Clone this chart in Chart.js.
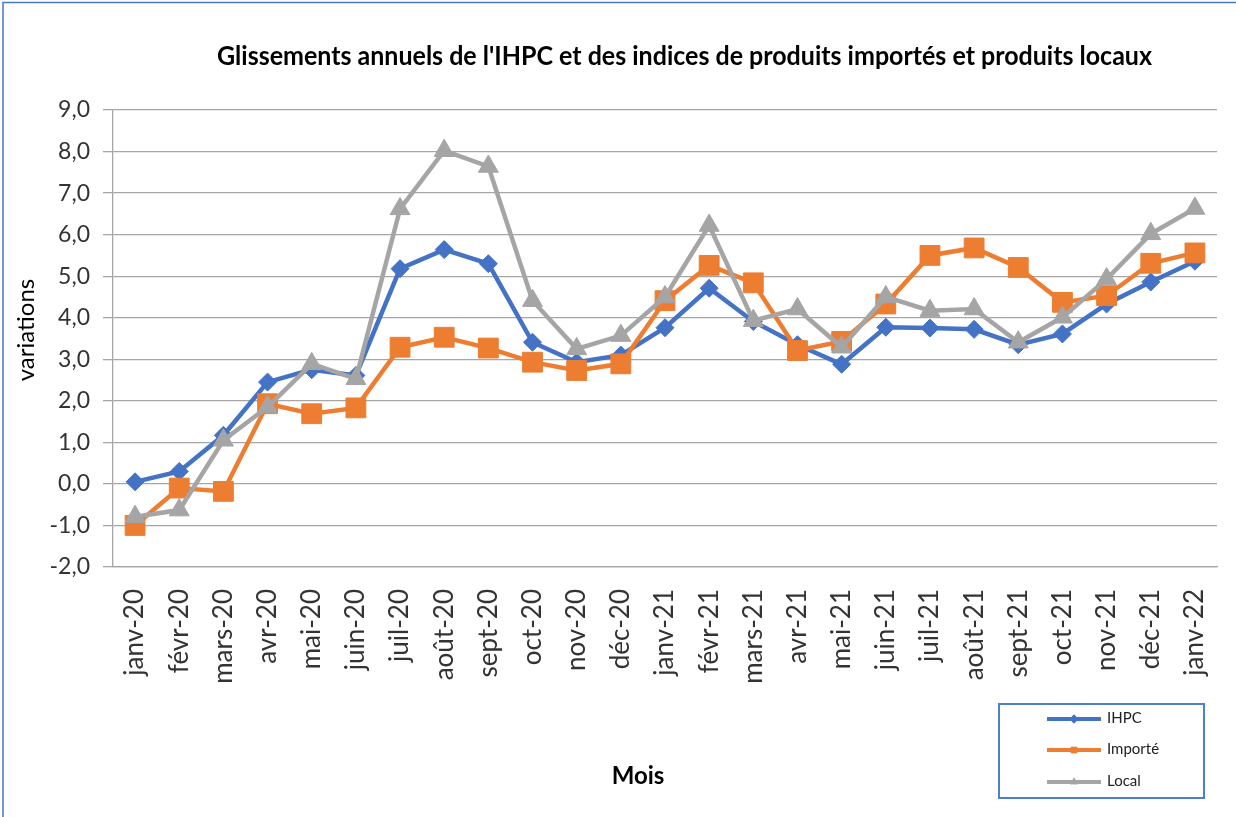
<!DOCTYPE html>
<html><head><meta charset="utf-8">
<script src="https://cdn.jsdelivr.net/npm/chart.js@4"></script>
<style>html,body{margin:0;padding:0;background:#fff}#wrap{width:1236px;height:817px;position:relative}canvas{display:block}</style>
</head><body><div id="wrap"><canvas id="c" width="1236" height="817"></canvas></div>
<script>
const categories = ["janv-20","févr-20","mars-20","avr-20","mai-20","juin-20","juil-20","août-20","sept-20","oct-20","nov-20","déc-20","janv-21","févr-21","mars-21","avr-21","mai-21","juin-21","juil-21","août-21","sept-21","oct-21","nov-21","déc-21","janv-22"];
const ihpc    = [0.05, 0.30, 1.17, 2.45, 2.75, 2.61, 5.18, 5.64, 5.30, 3.41, 2.93, 3.10, 3.76, 4.71, 3.91, 3.35, 2.88, 3.77, 3.75, 3.72, 3.35, 3.61, 4.33, 4.86, 5.36];
const importe = [-1.00, -0.10, -0.18, 1.93, 1.69, 1.83, 3.29, 3.53, 3.27, 2.93, 2.73, 2.89, 4.41, 5.26, 4.84, 3.21, 3.43, 4.33, 5.50, 5.68, 5.21, 4.37, 4.53, 5.31, 5.56];
const local   = [-0.79, -0.63, 1.05, 1.85, 2.89, 2.53, 6.62, 8.02, 7.64, 4.41, 3.25, 3.57, 4.50, 6.22, 3.93, 4.21, 3.29, 4.50, 4.17, 4.21, 3.41, 4.01, 4.93, 6.02, 6.63];
const seriesNames = ["IHPC", "Importé", "Local"];
const yMin = -2, yMax = 9, yStep = 1;
const titleText = "Glissements annuels de l'IHPC et des indices de produits importés et produits locaux";
const yTitle = "variations";
const xTitle = "Mois";

const FONT = "Lato, 'Open Sans', sans-serif";
const colors = ["#4472C4", "#ED7D31", "#A5A5A5"];
const styles = ["rectRot", "rect", "triangle"];

const decor = {
  id: 'decor',
  beforeDraw(chart) {
    const ctx = chart.ctx;
    ctx.save(); ctx.fillStyle = '#fff'; ctx.fillRect(0, 0, chart.width, chart.height); ctx.restore();
  },
  afterDraw(chart) {
    const ctx = chart.ctx;
    ctx.save();
    ctx.strokeStyle = '#4a78c8'; ctx.lineWidth = 1.5;
    ctx.beginPath(); ctx.moveTo(3, 817); ctx.lineTo(3, 2.5); ctx.lineTo(1236, 2.5); ctx.stroke();
    ctx.fillStyle = '#000';
    ctx.font = "bold 26px " + FONT;
    ctx.textBaseline = 'alphabetic'; ctx.textAlign = 'center';
    const w = ctx.measureText(titleText).width;
    const sx = 935 / w;
    ctx.save(); ctx.translate(684.5, 65); ctx.scale(sx, 1); ctx.fillText(titleText, 0, 0); ctx.restore();
    ctx.font = "bold 24px " + FONT;
    ctx.fillText(xTitle, 638, 784);
    ctx.save();
    ctx.font = "24px " + FONT; ctx.textBaseline = 'middle';
    ctx.translate(26, 330); ctx.rotate(-Math.PI / 2); ctx.fillText(yTitle, 0, 0);
    ctx.restore();
    ctx.strokeStyle = '#4f7fcc'; ctx.lineWidth = 2;
    ctx.strokeRect(999, 704, 205, 94);
    const ys = [719, 750, 782];
    chart.data.datasets.forEach((ds, i) => {
      const y = ys[i];
      ctx.strokeStyle = ds.borderColor; ctx.lineWidth = 4; ctx.lineCap = 'butt';
      ctx.beginPath(); ctx.moveTo(1047, y); ctx.lineTo(1101, y); ctx.stroke();
      ctx.fillStyle = ds.borderColor;
      ctx.beginPath();
      Chart.helpers.drawPoint(ctx, {pointStyle: ds.pointStyle, radius: 4.5, borderWidth: 0, rotation: 0}, 1074, y);
      ctx.fill();
      ctx.fillStyle = '#222'; ctx.font = "15px " + FONT; ctx.textAlign = 'left'; ctx.textBaseline = 'middle';
      ctx.fillText(ds.label, 1107, y - 1);
    });
    ctx.restore();
  }
};

const seriesData = [ihpc, importe, local];
const radii = [9, 14, 11.5];
const datasets = seriesData.map((d, i) => ({
  label: seriesNames[i],
  data: d,
  borderColor: colors[i],
  backgroundColor: colors[i],
  pointBackgroundColor: colors[i],
  pointBorderColor: colors[i],
  pointStyle: styles[i],
  pointRadius: radii[i],
  pointBorderWidth: 1,
  borderWidth: 4.5,
  tension: 0,
  order: 3 - i
}));

new Chart(document.getElementById('c'), {
  type: 'line',
  data: { labels: categories, datasets },
  plugins: [decor],
  options: {
    responsive: false,
    animation: false,
    layout: { padding: { top: 110, right: 19, left: 0, bottom: 0 } },
    plugins: { legend: { display: false }, title: { display: false }, tooltip: { enabled: false } },
    scales: {
      x: {
        offset: true,
        grid: { display: false, drawTicks: false },
        border: { display: true, color: '#a6a6a6', width: 1.3 },
        ticks: { autoSkip: false, maxRotation: 90, minRotation: 90, padding: 22, color: '#333', font: { family: FONT, size: 26 } },
        afterFit(s) { s.height = 250; s.paddingLeft = 0; s.paddingRight = 0; }
      },
      y: {
        min: yMin, max: yMax,
        ticks: { stepSize: yStep, padding: 13, color: '#333', font: { family: FONT, size: 23 },
          callback: v => v.toFixed(1).replace('.', ',') },
        grid: { color: '#a6a6a6', lineWidth: 1.3, tickLength: 10, drawTicks: true },
        border: { display: true, color: '#a6a6a6', width: 1.3 },
        afterFit(s) { s.width = 113; s.paddingTop = 0; s.paddingBottom = 0; }
      }
    }
  }
});
</script></body></html>
